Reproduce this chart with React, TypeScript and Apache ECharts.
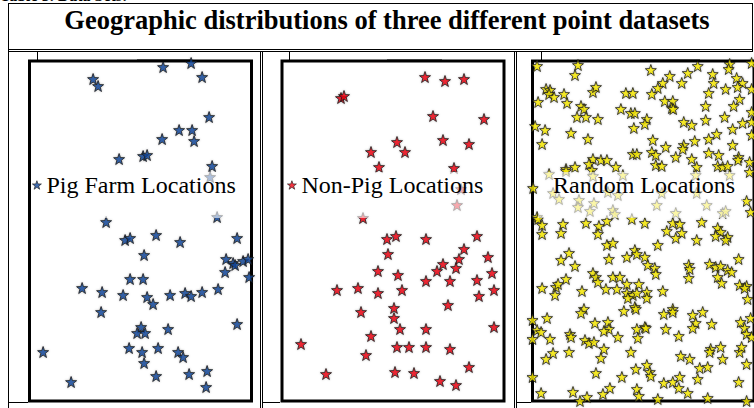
import { useEffect, useRef } from "react";
import * as echarts from "echarts";

// ---- text ----
const captionText = "Table 3. Data Sets:";
const titleText = "Geographic distributions of three different point datasets";
const seriesNames = ["Pig Farm Locations", "Non-Pig Locations", "Random Locations"];
const seriesColors = ["#0f4598", "#ee0010", "#f8ea00"];

// ---- map extent (km east, km north) ----
const extentX: [number, number] = [0, 111];
const extentY: [number, number] = [0, 170];

// ---- point datasets [km east, km north] ----
const pigFarmSites: [number, number][] = [
  [66.8, 167], [80.8, 169], [86.3, 162], [31.8, 161], [34.3, 157.5], [89.8, 142],
  [74.8, 135.5], [81.3, 135.5], [66.3, 131], [82.3, 130], [44.8, 121], [56.8, 122.5],
  [58.8, 123], [91.3, 117.5], [90.3, 112], [93.8, 92], [38.3, 89.5], [47.8, 80.5],
  [50.3, 81.5], [63.3, 83], [75.3, 79.5], [103.8, 81.5], [57.3, 73], [98.3, 71],
  [101.8, 69], [102.8, 68], [106.8, 70], [109.3, 71], [97.8, 64.5], [109.8, 62],
  [50.3, 61], [56.8, 61], [26.3, 56.5], [36.3, 54.5], [46.8, 53], [58.8, 52],
  [61.8, 48.5], [70.3, 53], [77.8, 54], [80.8, 52.5], [86.3, 54.5], [94.3, 56],
  [35.8, 44.5], [55.8, 37], [53.8, 34], [57.8, 34], [69.3, 36], [103.8, 38.5],
  [6.8, 24.5], [49.8, 26.5], [56.3, 24.5], [64.3, 26.5], [74.3, 24.5], [76.8, 22],
  [57.3, 19], [63.3, 12.5], [79.8, 13.5], [88.8, 15], [20.8, 9.5], [88.3, 7],
];

const nonPigSites: [number, number][] = [
  [71.5, 162], [81.5, 160], [91, 161], [29.5, 151.5], [31, 152.5], [75.5, 142.5],
  [101, 141], [57.5, 129.5], [80.5, 130.5], [93.5, 128.5], [44.5, 124.5], [61.5, 124.5],
  [48.5, 117], [86, 116.5], [89.5, 106], [87.5, 98], [40.5, 91.5], [52.5, 81],
  [57, 82.5], [72, 81], [97.5, 82.5], [53, 73.5], [91, 76], [103, 72],
  [88.5, 71], [80.5, 68.5], [87, 66.5], [77.5, 65], [48, 65], [58, 63],
  [72, 60], [84, 60], [97.5, 60.5], [105, 64], [27.5, 55.5], [38, 56.5],
  [48, 54], [60, 55.5], [106, 55.5], [98.5, 52.5], [83, 48], [56, 46.5],
  [39.5, 44.5], [56, 41.5], [59, 36], [72, 36], [106, 37], [44.5, 32.5],
  [9.5, 28.5], [57.5, 27], [63.5, 27], [72, 27], [84, 26], [42, 23],
  [93.5, 17], [22, 13.5], [56.5, 14.5], [66, 14], [79, 10], [87, 8],
];

const randomSites: [number, number][] = [
  [2.3, 167.5], [22.8, 168], [21.3, 163], [59.3, 165.5], [68.8, 162.5], [77.8, 164],
  [82.8, 167.5], [74.8, 159], [65.3, 159], [62.8, 156.5], [90.3, 163.5], [90.8, 159],
  [98.8, 168.5], [98.3, 166], [102.3, 161.5], [105.3, 159], [102.8, 157], [109.8, 169],
  [6.8, 156], [8.8, 155.5], [8.3, 153.5], [10.8, 152], [15.8, 153.5], [17.3, 149],
  [2.8, 149.5], [30.3, 154.5], [31.8, 157], [46.8, 154], [50.3, 154], [59.8, 153.5],
  [88.3, 154], [96.8, 156], [109.8, 156], [66.3, 150], [70.3, 150], [69.8, 146.5],
  [70.5, 146], [86.8, 147.5], [103.8, 151], [100.8, 147.5], [109.8, 144.5], [24.3, 147.5],
  [25.8, 146], [22.3, 142], [26.8, 142], [32.8, 141], [44.3, 146], [49.3, 144],
  [51.3, 144], [57.3, 141], [56.3, 138.5], [50.8, 136.5], [75.8, 139.5], [79.8, 138],
  [86.8, 140.5], [96.3, 142], [105.3, 139], [109.8, 139.5], [1.3, 137.5], [6.3, 135.5],
  [19.3, 134], [4.8, 128.5], [27.8, 131], [60.3, 130.5], [81.3, 130], [88.3, 131],
  [92.3, 133.5], [100.3, 136], [109.8, 133], [66.8, 127], [75.8, 128], [75.3, 126],
  [100.3, 128], [30.3, 121], [28.3, 118.5], [34.3, 120.5], [37.3, 120.5], [41.8, 117],
  [21.3, 117], [16.8, 116], [50.3, 123.5], [52.3, 123.5], [59.8, 124.5], [61.8, 123],
  [71.8, 122], [79.8, 121], [88.3, 124], [93.3, 123], [103.3, 122], [103, 120.5],
  [108.8, 119.5], [61.8, 118], [64.8, 117.5], [82.3, 117], [92.8, 117.5], [95.3, 117],
  [97.8, 117.5], [8.3, 113.5], [16.8, 115], [29.8, 115.5], [45.3, 113], [81.8, 113],
  [98.8, 113], [108.8, 114.5], [0.3, 106.5], [10.3, 104], [13.3, 101], [23.3, 100.5],
  [22.8, 97], [30.8, 99], [28.8, 95], [40.3, 95.5], [41.3, 93.5], [37.8, 104.5],
  [42.8, 103], [62.3, 98], [64.8, 104], [71.8, 94], [87.3, 98], [95.3, 94],
  [96.8, 95], [82.3, 104], [30.3, 112.5], [107.3, 100], [109.3, 94.5], [2.3, 92],
  [2.8, 91], [4.8, 88], [4.8, 83.5], [15.3, 88.5], [14.3, 84], [26.8, 89],
  [33.3, 87.5], [32.8, 83.5], [37.3, 90], [49.8, 91], [56.3, 89], [67.3, 85],
  [70.3, 89], [73.8, 88.5], [74.8, 84], [71.8, 81.5], [84.8, 89.5], [92.8, 86.5],
  [94.3, 84.5], [91.8, 82.5], [97.8, 82], [96.8, 80.5], [82.3, 80.5], [37.3, 78],
  [40.3, 79], [62.8, 78], [18.3, 74], [14.3, 70.5], [21.3, 67.5], [38.3, 71],
  [47.3, 72], [51.3, 75.5], [52.3, 73.5], [56.3, 72], [57.8, 68], [61.3, 66.5],
  [61.8, 63.5], [78.3, 68], [78.8, 66], [78.3, 61.5], [88.8, 68.5], [91.8, 67],
  [94.3, 67.5], [97.8, 65.5], [99.8, 64.5], [103.3, 71], [92.8, 62], [94.8, 59],
  [16.8, 61], [30.3, 64], [31.8, 62], [32.8, 59.5], [40.3, 62], [43.8, 62],
  [47.3, 58.5], [53.3, 58.5], [4.8, 56.5], [11.8, 57], [12.8, 58.5], [103.8, 58],
  [107.3, 57.5], [11.3, 53], [24.8, 55], [36.8, 56], [42.3, 56], [47.3, 54],
  [50.3, 53], [52.3, 54], [57.3, 54.5], [57.3, 51.5], [47.8, 51.5], [65.3, 55],
  [106.3, 56.5], [107.8, 51], [25.8, 46], [24.3, 44], [45.8, 45], [51.3, 47],
  [51.8, 46], [65.8, 43.5], [70.3, 46], [70.3, 44.5], [80.3, 43], [85.3, 44.5],
  [7.3, 41.5], [0, 40.5], [2.3, 35.5], [4.3, 34.5], [0, 31], [8.8, 31],
  [18.8, 33.5], [19.3, 32], [31.3, 39], [37.8, 39.5], [38.3, 36], [35.8, 35],
  [52.3, 36], [56.3, 37], [56.8, 36.5], [66.8, 36], [81.8, 39], [80.3, 36.5],
  [89.8, 38.5], [104.3, 39.5], [106.3, 36.5], [107.3, 33.5], [109.8, 32], [109.3, 41.5],
  [73.3, 32.5], [52.8, 31.5], [42.8, 32], [26.3, 30.5], [28.3, 29], [30.8, 29.5],
  [35.8, 26], [10.3, 24], [6.8, 21], [18.3, 24.5], [34.3, 21.5], [49.3, 24.5],
  [74.3, 22.5], [78.8, 21], [89.3, 26], [88.8, 24.5], [94.3, 27], [95.3, 21],
  [103.8, 24.5], [104.8, 27], [107.3, 18.5], [83.8, 16.5], [87.8, 17], [57.3, 18],
  [58.8, 14.5], [59.3, 12.5], [51.8, 16], [31.8, 14], [44.8, 12], [0, 12],
  [65.8, 9], [70.3, 9.5], [73.8, 12], [82.8, 11], [73.3, 6.5], [77.8, 4],
  [103.3, 9.5], [38.8, 6.5], [35.3, 3.5], [52.3, 6], [53.3, 2.5], [4.3, 4],
  [20.3, 4.5], [27.3, 2], [23.8, 0], [62.8, 1], [87.8, 1.5], [107.3, 0],
];

const datasets = [pigFarmSites, nonPigSites, randomSites];

// ---- layout ----
const panelLefts = [29.5, 282, 532.5];
const panelTop = 61;
const panelWidth = 222;
const panelHeight = 340;
const legendLefts = [31, 286, 538];

const STAR =
  "path://M50,0L61.8,33.8L97.6,34.5L69.1,56.4L79.4,90.5L50,70.1L20.6,90.5L30.9,56.4L2.4,34.5L38.2,33.8Z";
const SERIF = "'Liberation Serif', 'Times New Roman', serif";

function hLine(x1: number, x2: number, y: number, w = 1) {
  return {
    type: "line",
    silent: true,
    z: 10,
    shape: { x1, y1: y, x2, y2: y },
    style: { stroke: "#000", lineWidth: w },
  };
}
function vLine(x: number, y1: number, y2: number, w = 1) {
  return {
    type: "line",
    silent: true,
    z: 10,
    shape: { x1: x, y1, x2: x, y2 },
    style: { stroke: "#000", lineWidth: w },
  };
}

function starStyle(color: string) {
  return {
    color,
    borderColor: "#1a1a1a",
    borderWidth: 1,
    shadowBlur: 2,
    shadowColor: "rgba(0,0,0,0.3)",
  };
}

export default function App() {
  const ref = useRef<HTMLDivElement>(null);

  useEffect(() => {
    if (!ref.current) return;
    const chart = echarts.init(ref.current, undefined, { renderer: "svg" });

    const grids = panelLefts.map((left) => ({
      left,
      top: panelTop,
      width: panelWidth,
      height: panelHeight,
      show: true,
      backgroundColor: "#fff",
      borderColor: "#000",
      borderWidth: 3,
    }));

    const xAxes = panelLefts.map((_, i) => ({
      type: "value",
      gridIndex: i,
      min: extentX[0],
      max: extentX[1],
      show: false,
    }));
    const yAxes = panelLefts.map((_, i) => ({
      type: "value",
      gridIndex: i,
      min: extentY[0],
      max: extentY[1],
      show: false,
    }));

    const series = datasets.map((data, i) => ({
      name: seriesNames[i],
      type: "scatter",
      xAxisIndex: i,
      yAxisIndex: i,
      data,
      clip: false,
      symbol: STAR,
      symbolSize: 11,
      itemStyle: starStyle(seriesColors[i]),
    }));

    const legends = seriesNames.map((name, i) => ({
      left: legendLefts[i],
      top: 172,
      orient: "horizontal",
      selectedMode: false,
      itemWidth: 9,
      itemHeight: 9,
      padding: [1, 8, 21, 1],
      backgroundColor: "rgba(255,255,255,0.6)",
      data: [
        {
          name,
          icon: i === 2 ? "none" : STAR,
          itemStyle: { color: seriesColors[i], borderColor: "#1a1a1a", borderWidth: 0.8 },
        },
      ],
      textStyle: { fontFamily: SERIF, fontSize: 24, color: "#000" },
    }));

    const graphic = [
      {
        type: "text",
        silent: true,
        x: 0,
        y: 3,
        style: {
          text: captionText,
          fontFamily: SERIF,
          fontWeight: "bold",
          fontSize: 16,
          fill: "#000",
          verticalAlign: "bottom",
        },
      },
      {
        type: "text",
        silent: true,
        x: 387,
        y: 19.5,
        style: {
          text: titleText,
          fontFamily: SERIF,
          fontWeight: "bold",
          fontSize: 26.5,
          fill: "#000",
          align: "center",
          verticalAlign: "middle",
        },
      },
      // table frame
      hLine(8, 753, 3.5),
      vLine(8.5, 3, 408),
      vLine(752.5, 3, 51),
      hLine(8, 753, 49.5),
      hLine(8, 753, 51.5),
      vLine(260.5, 51, 408),
      vLine(262.5, 51, 408),
      vLine(514.5, 51, 408),
      vLine(516.5, 51, 408),
      vLine(37.5, 51, 61),
      vLine(289.5, 51, 61),
      vLine(541.5, 51, 61),
      hLine(8, 28, 402.5),
      hLine(262, 280, 402.5),
      hLine(516, 531, 402.5),
      // heavier segments on the map frames' top edges
      hLine(137, 190, 60.5, 2),
      hLine(387, 442, 60.5, 2),
      hLine(640, 700, 60.5, 2),
    ];

    chart.setOption({
      animation: false,
      backgroundColor: "#fff",
      grid: grids,
      xAxis: xAxes,
      yAxis: yAxes,
      legend: legends,
      series,
      graphic,
    });

    return () => chart.dispose();
  }, []);

  return (
    <div
      ref={ref}
      style={{ position: "fixed", left: 0, top: 0, width: 754, height: 408, background: "#fff" }}
    />
  );
}
